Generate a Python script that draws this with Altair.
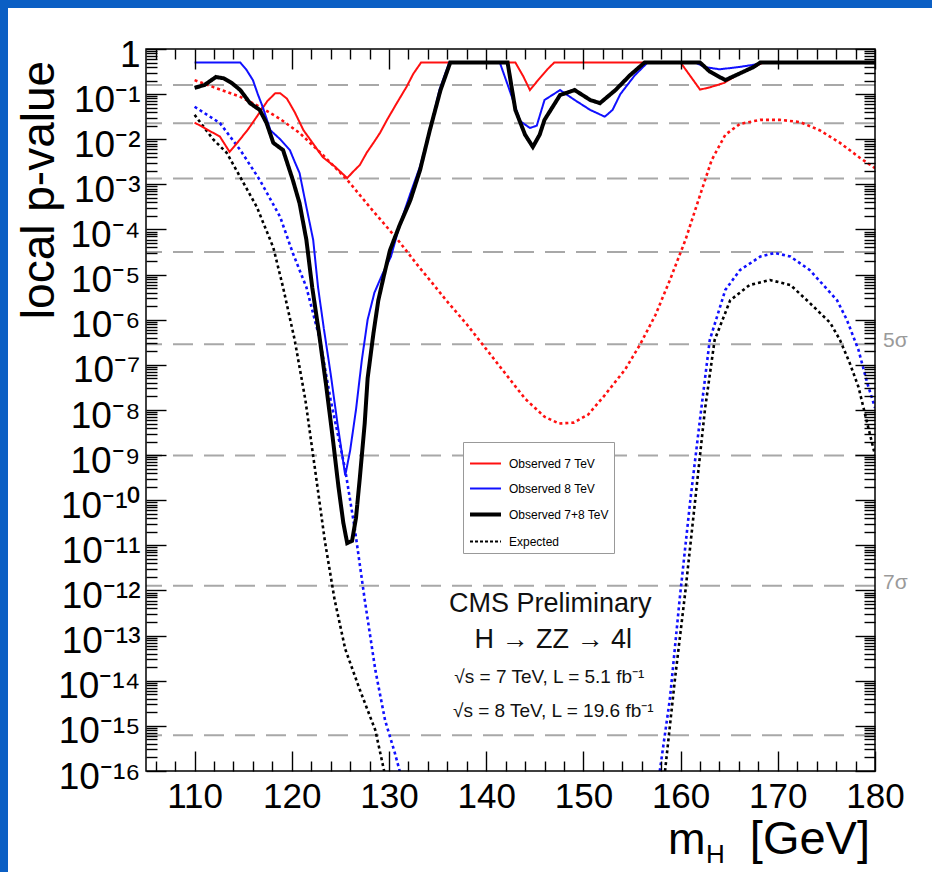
import altair as alt
import pandas as pd

FONT = "Liberation Sans, Arial, Helvetica, sans-serif"
RED = "#ff1010"
BLUE = "#1010ff"
BLACK = "#000000"
GRID = "#a8a8a8"
SLIDE_BLUE = "#0b5fc4"

# ---------------- data (mH in GeV, log10 of local p-value) ----------------
OBS7_M = [110, 111, 112.6, 113.6, 114.5, 115.5, 116.4, 117.5, 118.3, 118.8, 119.5, 120.3, 121.2,
          122.2, 123.2, 124.4, 125.7, 126.3, 127, 127.7, 128.4, 129.1, 129.8, 130.8, 131.8,
          132.5, 133.3, 143, 143.8, 144.5, 145.3, 146.3, 147, 160, 161, 162, 163, 164.5, 166,
          167.5, 168.5, 180]
OBS7_E = [-1.63, -1.75, -1.94, -2.28, -2.05, -1.78, -1.5, -1.15, -0.98, -0.98, -1.1, -1.4, -1.8,
          -2.1, -2.4, -2.6, -2.86, -2.72, -2.57, -2.3, -2.08, -1.85, -1.57, -1.2, -0.84,
          -0.55, -0.3, -0.3, -0.6, -0.91, -0.7, -0.45, -0.3, -0.3, -0.6, -0.9, -0.85, -0.75,
          -0.55, -0.4, -0.3, -0.3]

OBS8_M = [110, 114.7, 115.3, 116, 116.5, 117, 117.8, 118.8, 119.8, 120.3, 120.8, 121.5, 122.2,
          122.7, 123.3, 124, 124.7, 125.5, 126, 126.6, 127.2, 127.8, 128.5, 129.3, 130.2, 131.1,
          132.2, 133.2, 134.2, 135.2, 136.2, 141.4, 142.4, 143.5, 144.5, 145.2, 146, 147.6,
          149.1, 150.7, 152.2, 153, 153.8, 155.3, 156.6, 161.5, 162.5, 164, 166, 167.5, 168.5, 180]
OBS8_E = [-0.3, -0.3, -0.45, -0.69, -1.0, -1.28, -1.8, -2.0, -2.24, -2.5, -2.75, -3.5, -4.23,
          -5.28, -6.2, -7.2, -8.3, -9.45, -8.9, -8.0, -6.9, -6.0, -5.4, -5.0, -4.6, -3.9,
          -3.2, -2.6, -1.8, -0.9, -0.3, -0.3, -0.91, -1.6, -1.75, -1.7, -1.13, -0.91,
          -1.13, -1.35, -1.5, -1.35, -1.0, -0.58, -0.3, -0.3, -0.4, -0.45, -0.4, -0.35, -0.3, -0.3]

OBS78_M = [110, 111, 112.2, 113, 113.8, 114.7, 115.7, 116.7, 117.4, 118.1, 119.1, 120.1, 120.8,
           121.5, 122.1, 122.8, 123.5, 124.2, 124.8, 125.3, 125.7, 126.2, 126.6, 127, 127.5,
           127.8, 128.4, 128.9, 129.5, 130.1, 131.1, 132.2, 133.2, 134.2, 135.3, 136.3, 142.2,
           143, 144, 144.8, 145.5, 146, 147.6, 149.1, 150.7, 151.7, 153.3, 154.8, 156.3, 162,
           163, 164.6, 166, 167.5, 168.2, 180]
OBS78_E = [-0.86, -0.8, -0.62, -0.65, -0.75, -0.91, -1.2, -1.35, -1.64, -2.08, -2.24, -2.9, -3.42,
           -4.23, -5.28, -6.3, -7.4, -8.6, -9.7, -10.5, -10.95, -10.9, -10.4, -9.5, -8.3,
           -7.3, -6.3, -5.57, -5.0, -4.46, -3.9, -3.35, -2.68, -1.8, -0.91, -0.3, -0.3,
           -1.35, -1.9, -2.17, -1.9, -1.57, -1.02, -0.91, -1.13, -1.2, -0.91, -0.58, -0.3, -0.3,
           -0.5, -0.69, -0.55, -0.4, -0.3, -0.3]

EXP7_M = [110, 112, 114.7, 116.7, 118.8, 120.8, 123.2, 125.7, 128.4, 130.8, 132.9, 134.5, 136,
          138, 140, 142, 144, 146, 147.5, 149, 150.5, 152.2, 154.3, 155.8, 157.4, 158.9, 160.5,
          162, 163.2, 164.6, 166.1, 168.2, 170.2, 172.3, 174.3, 176.4, 178.5, 180]
EXP7_E = [-0.69, -0.85, -1.06, -1.28, -1.55, -1.86, -2.35, -2.9, -3.6, -4.2, -4.78, -5.2, -5.6,
          -6.1, -6.65, -7.2, -7.75, -8.15, -8.3, -8.28, -8.1, -7.67, -7.1, -6.56, -5.9, -5.12,
          -4.23, -3.24, -2.46, -1.9, -1.66, -1.57, -1.57, -1.62, -1.8, -2.08, -2.42, -2.64]

EXP8_M_LOW = [110, 112.6, 114.7, 116.7, 118.8, 120.1, 121.5, 122.9, 124, 125.5, 126.5, 127.5,
              128.6, 129.6, 130.6, 131.6]
EXP8_E_LOW = [-1.28, -1.64, -2.24, -2.9, -3.72, -4.52, -5.28, -6.45, -7.78, -9.33, -10.66, -12.2,
              -13.77, -14.88, -15.6, -16.4]
EXP8_M_HIGH = [157.6, 158.9, 159.9, 161, 162, 163, 164.6, 166.1, 168.2, 169.7, 171.3, 173.3,
               176.1, 177.1, 178.3, 179.2, 180]
EXP8_E_HIGH = [-16.4, -14.4, -12.2, -10, -8.2, -6.45, -5.34, -4.9, -4.6, -4.52, -4.6, -4.9,
               -5.57, -6.0, -6.67, -7.4, -7.95]

EXP78_M_LOW = [110, 111.9, 113.3, 114.7, 116.4, 118.1, 119.1, 120.3, 121.4, 122.4, 123.4, 124.4,
               125.5, 127, 128.6, 129.9]
EXP78_E_LOW = [-1.46, -2.0, -2.3, -2.84, -3.5, -4.4, -5.28, -6.45, -7.78, -9.33, -10.9, -12.2,
               -13.3, -14.2, -15.1, -16.4]
EXP78_M_HIGH = [158.2, 159.4, 160.5, 161.5, 162.5, 163.5, 165.1, 167.1, 169.2, 171.3, 173.3,
                175.4, 176.4, 177.4, 178.3, 179.2, 180]
EXP78_E_HIGH = [-16.4, -14, -12, -10, -8, -6.45, -5.57, -5.23, -5.12, -5.23, -5.63, -6.07,
                -6.45, -6.96, -7.49, -8.29, -9.0]

LEGEND_LABELS = ["Observed 7 TeV", "Observed 8 TeV", "Observed 7+8 TeV", "Expected"]

SIGMA_P = [0.1587, 0.02275, 1.35e-3, 3.17e-5, 2.87e-7, 9.87e-10, 1.28e-12, 6.22e-16]
SIGMA_LABEL_P = [2.87e-7, 1.28e-12]
SIGMA_LABELS = ["5σ", "7σ"]

X_TICKS = [110, 120, 130, 140, 150, 160, 170, 180]
X_MINOR = [106, 108, 112, 114, 116, 118, 122, 124, 126, 128, 132, 134, 136, 138, 142, 144,
           146, 148, 152, 154, 156, 158, 162, 164, 166, 168, 172, 174, 176, 178]
Y_EXPONENTS = list(range(0, -17, -1))
Y_LABELS = ["1", "10⁻¹", "10⁻²", "10⁻³", "10⁻⁴", "10⁻⁵", "10⁻⁶", "10⁻⁷", "10⁻⁸", "10⁻⁹",
            "10⁻¹⁰", "10⁻¹¹", "10⁻¹²", "10⁻¹³", "10⁻¹⁴", "10⁻¹⁵", "10⁻¹⁶"]
Y_MINOR_MULT = [2, 3, 4, 5, 6, 7, 8, 9]

# ---------------- tables ----------------
def frame(ms, es, name, seg=0):
    return pd.DataFrame({"m": ms, "p": [10.0 ** e for e in es], "series": name, "seg": seg})

obs = pd.concat([frame(OBS7_M, OBS7_E, LEGEND_LABELS[0]),
                 frame(OBS8_M, OBS8_E, LEGEND_LABELS[1]),
                 frame(OBS78_M, OBS78_E, LEGEND_LABELS[2])], ignore_index=True)
exp7 = frame(EXP7_M, EXP7_E, "Expected 7")
exp8 = pd.concat([frame(EXP8_M_LOW, EXP8_E_LOW, "Expected 8", 0),
                  frame(EXP8_M_HIGH, EXP8_E_HIGH, "Expected 8", 1)], ignore_index=True)
exp78 = pd.concat([frame(EXP78_M_LOW, EXP78_E_LOW, "Expected 7+8", 0),
                   frame(EXP78_M_HIGH, EXP78_E_HIGH, "Expected 7+8", 1)], ignore_index=True)
sig = pd.DataFrame({"p": SIGMA_P})
sig_lab = pd.DataFrame({"p": SIGMA_LABEL_P, "label": SIGMA_LABELS})

y_major = [10.0 ** e for e in Y_EXPONENTS]
y_minor = [k * 10.0 ** e for e in Y_EXPONENTS[1:] for k in Y_MINOR_MULT]

W, H = 729, 722
xs = alt.Scale(domain=[105, 180], nice=False, zero=False)
ys = alt.Scale(type="log", domain=[1e-16, 1], nice=False)

label_expr = str(Y_LABELS).replace("'", '"') + "[round(-log(datum.value)/LN10)]"

def X(axis=None):
    return alt.X("m:Q", scale=xs, axis=axis)

def Y(axis=None):
    return alt.Y("p:Q", scale=ys, axis=axis)

one = pd.DataFrame({"a": [0]})

# ---------------- slide border (blue strips) ----------------
strip_top = alt.Chart(one).mark_rect(color=SLIDE_BLUE).encode(
    x=alt.value(-146), x2=alt.value(932 - 146), y=alt.value(-49), y2=alt.value(-41))
strip_left = alt.Chart(one).mark_rect(color=SLIDE_BLUE).encode(
    x=alt.value(-146), x2=alt.value(-138), y=alt.value(-49), y2=alt.value(872 - 49))

# ---------------- plot frame ----------------
frame_box = alt.Chart(one).mark_rect(fill=None, stroke="black", strokeWidth=1.5).encode(
    x=alt.value(0), x2=alt.value(W), y=alt.value(0), y2=alt.value(H))

# ---------------- sigma lines ----------------
sig_rules = alt.Chart(sig).mark_rule(color=GRID, strokeWidth=2, strokeDash=[20, 11]).encode(y=Y())
sig_text = alt.Chart(sig_lab).mark_text(align="left", baseline="middle", dx=8, dy=-3,
                                        fontSize=21, font=FONT, color="#9a9a9a").encode(
    x=alt.XDatum(180, scale=xs, axis=None), y=Y(), text="label:N")

# ---------------- expected ----------------
def exp_layer(df, color):
    return alt.Chart(df).mark_line(clip=True, strokeWidth=2.6, strokeDash=[3, 3], color=color).encode(
        x=X(), y=Y(), detail="seg:N", order="m:Q")

e7 = exp_layer(exp7, RED)
e8 = exp_layer(exp8, BLUE)
e78 = exp_layer(exp78, BLACK)

# ---------------- observed ----------------
legend = alt.Legend(orient="none", legendX=317, legendY=393, title=None, symbolType="stroke",
                    symbolSize=960, labelFontSize=12, labelFont=FONT, labelColor="black",
                    strokeColor="#999999", fillColor="white", padding=5, rowPadding=2,
                    labelOffset=6, symbolOpacity=1)
o = alt.Chart(obs).mark_line(clip=True).encode(
    x=X(), y=Y(),
    color=alt.Color("series:N", scale=alt.Scale(domain=LEGEND_LABELS, range=[RED, BLUE, BLACK, BLACK]),
                    legend=legend),
    strokeDash=alt.StrokeDash("series:N", scale=alt.Scale(domain=LEGEND_LABELS,
                                                          range=[[1, 0], [1, 0], [1, 0], [3, 2]]),
                              legend=legend),
    strokeWidth=alt.StrokeWidth("series:O", scale=alt.Scale(type="ordinal", domain=LEGEND_LABELS,
                                                            range=[2, 2, 4, 2]),
                                legend=legend),
    order="m:Q",
)

# ---------------- annotations ----------------
def note(text, xm, ylog, size):
    return alt.Chart(one).mark_text(
        align="center", baseline="alphabetic", fontSize=size, font=FONT, color="#111111").encode(
        x=alt.XDatum(xm, scale=xs, axis=None), y=alt.YDatum(10.0 ** ylog, scale=ys, axis=None),
        text=alt.value(text))

notes = [note("CMS Preliminary", 146.6, -12.48, 27),
         note("H → ZZ → 4l", 146.9, -13.28, 27),
         note("√s = 7 TeV, L = 5.1 fb⁻¹", 146.5, -14.06, 19),
         note("√s = 8 TeV, L = 19.6 fb⁻¹", 146.9, -14.81, 19)]

def ptext(text, xpx, ypx, size, align="left", angle=0):
    return alt.Chart(one).mark_text(
        align=align, baseline="alphabetic" if angle == 0 else "middle", fontSize=size, font=FONT,
        color="black", angle=angle).encode(x=alt.value(xpx), y=alt.value(ypx), text=alt.value(text))

titles = [ptext("local p-value", -106, 141, 46, align="center", angle=270),
          ptext("m", 522, 805, 45),
          ptext("H", 560, 814, 26),
          ptext("[GeV]", 724, 805, 47, align="right")]

# ---------------- axes (ROOT style inward ticks) ----------------
def axis_layer(xaxis, yaxis):
    return alt.Chart(obs).mark_point(opacity=0).encode(x=X(xaxis), y=Y(yaxis))

nolines = dict(grid=False, domain=False, title=None, zindex=1)
lab_x = alt.Axis(orient="bottom", values=X_TICKS, ticks=False, labelFontSize=35, labelFont=FONT,
                 labelColor="black", labelPadding=8, labelFlush=False, labelOverlap=False, **nolines)
lab_y = alt.Axis(orient="left", values=y_major, ticks=False, labelFontSize=37, labelFont=FONT,
                 labelColor="black", labelPadding=6, labelExpr=label_expr, labelOverlap=False,
                 labelFlush=False, labelOffset=6, labelBaseline="middle", **nolines)

def tick_axis(orient, values, size):
    return alt.Axis(orient=orient, values=values, labels=False, tickSize=size, offset=-size,
                    tickColor="black", tickWidth=1.4, **nolines)

axes = [
    axis_layer(lab_x, lab_y),
    axis_layer(tick_axis("bottom", X_TICKS, 20), tick_axis("left", y_major, 20)),
    axis_layer(tick_axis("bottom", X_MINOR, 10), tick_axis("left", y_minor, 11)),
    axis_layer(tick_axis("top", X_TICKS, 20), tick_axis("right", y_major, 20)),
    axis_layer(tick_axis("top", X_MINOR, 10), tick_axis("right", y_minor, 11)),
]

chart = alt.layer(strip_top, strip_left, sig_rules, sig_text, e7, e8, e78, o, *notes, *titles,
                  frame_box, *axes).resolve_axis(
    x="independent", y="independent"
).properties(
    width=W, height=H,
    autosize=alt.AutoSizeParams(type="none"),
    padding={"left": 146, "top": 49, "right": 932 - 146 - W, "bottom": 872 - 49 - H},
    background="white",
).configure_view(stroke=None)

chart.save("out.html", embed_options={"renderer": "svg", "actions": False})
